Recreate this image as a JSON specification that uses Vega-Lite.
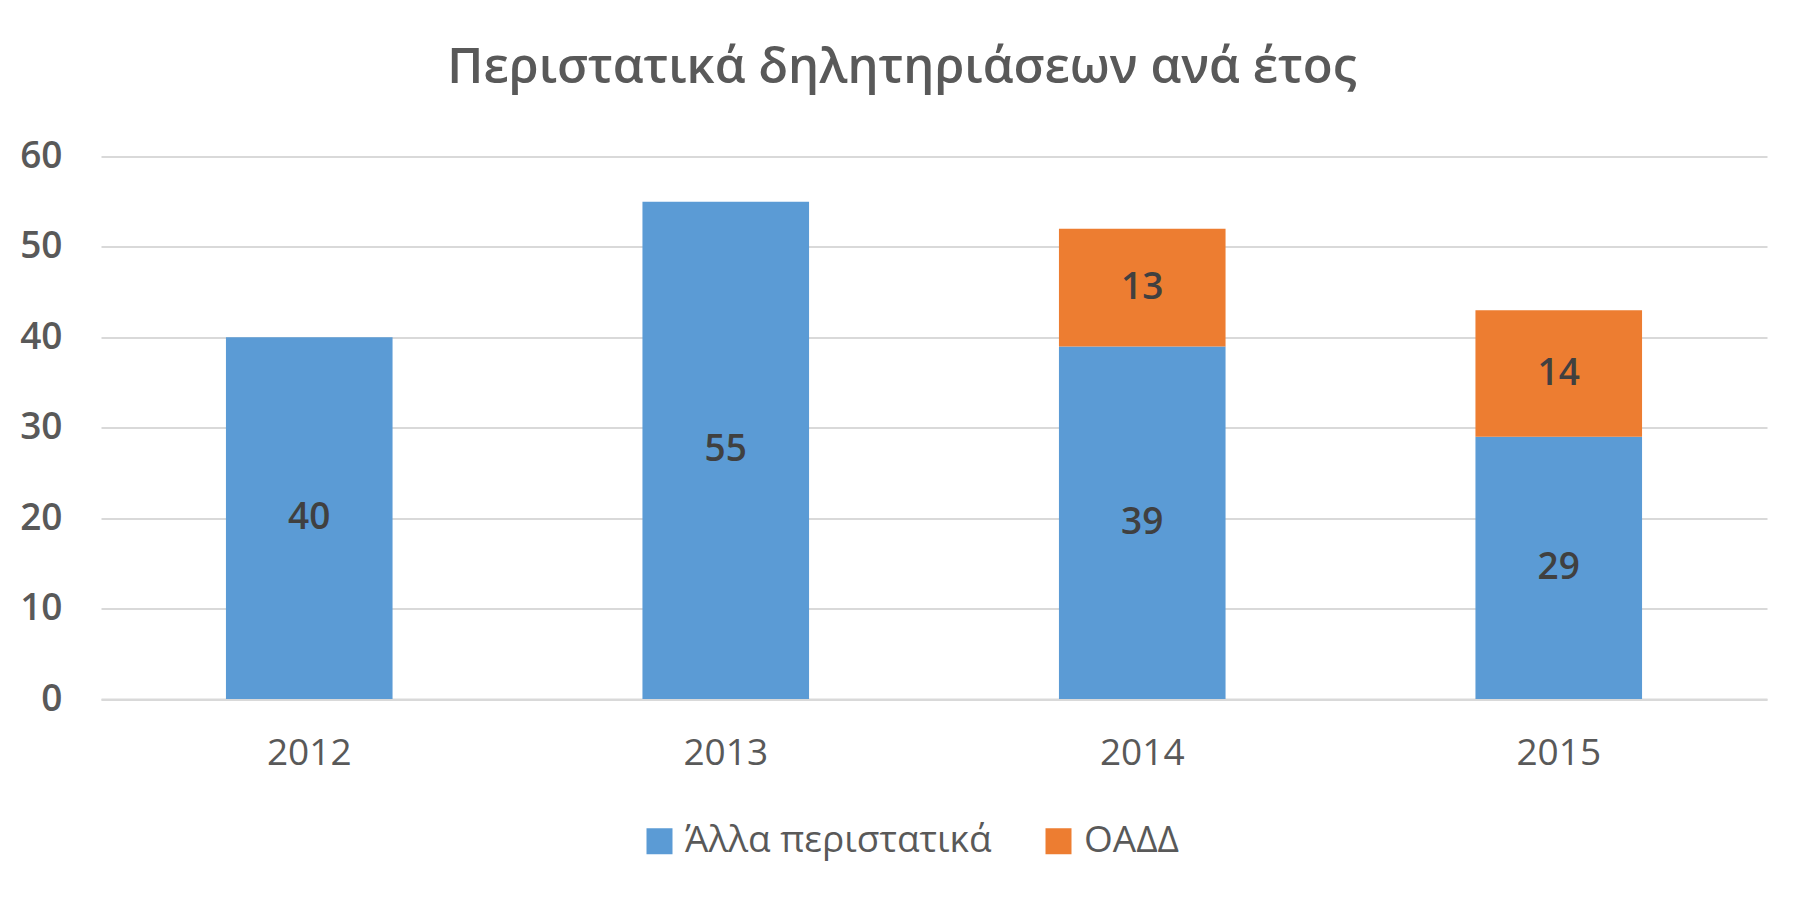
{
  "$schema": "https://vega.github.io/schema/vega-lite/v6.json",
  "width": 1666,
  "height": 542.5,
  "autosize": {"type": "none"},
  "padding": {"left": 101, "top": 156.5, "right": 38, "bottom": 199},
  "background": "white",
  "config": {"view": {"stroke": null}, "font": "Open Sans"},
  "title": {
    "text": "Περιστατικά δηλητηριάσεων ανά έτος",
    "font": "Open Sans",
    "fontSize": 49,
    "fontWeight": 600,
    "color": "#595959",
    "anchor": "middle",
    "baseline": "alphabetic",
    "dx": -32,
    "offset": 6
  },
  "data": {
    "values": [
      {"year": "2012", "cat": "Άλλα περιστατικά", "n": 40},
      {"year": "2013", "cat": "Άλλα περιστατικά", "n": 55},
      {"year": "2014", "cat": "Άλλα περιστατικά", "n": 39},
      {"year": "2014", "cat": "ΟΑΔΔ", "n": 13},
      {"year": "2015", "cat": "Άλλα περιστατικά", "n": 29},
      {"year": "2015", "cat": "ΟΑΔΔ", "n": 14}
    ]
  },
  "transform": [
    {"stack": "n", "groupby": ["year"], "sort": [{"field": "cat", "order": "ascending"}], "as": ["s0", "s1"]},
    {"calculate": "(datum.s0 + datum.s1) / 2", "as": "mid"}
  ],
  "encoding": {
    "x": {
      "field": "year",
      "type": "nominal",
      "scale": {"paddingInner": 0.6, "paddingOuter": 0.3},
      "axis": {
        "title": null,
        "labelAngle": 0,
        "ticks": false,
        "domain": true,
        "domainColor": "#d9d9d9",
        "domainWidth": 2,
        "labelFont": "Open Sans",
        "labelFontSize": 37,
        "labelColor": "#595959",
        "labelPadding": 36
      }
    }
  },
  "layer": [
    {
      "mark": {"type": "bar"},
      "encoding": {
        "y": {
          "field": "s0",
          "type": "quantitative",
          "scale": {"domain": [0, 60]},
          "axis": {
            "title": null,
            "values": [0, 10, 20, 30, 40, 50, 60],
            "ticks": false,
            "domain": false,
            "gridColor": "#d9d9d9",
            "gridWidth": 2,
            "labelFont": "Open Sans",
            "labelFontSize": 37,
            "labelFontWeight": 600,
            "labelColor": "#595959",
            "labelPadding": 39
          }
        },
        "y2": {"field": "s1"},
        "color": {
          "field": "cat",
          "type": "nominal",
          "scale": {"domain": ["Άλλα περιστατικά", "ΟΑΔΔ"], "range": ["#5B9BD5", "#ED7D31"]},
          "legend": {
            "title": null,
            "orient": "none",
            "direction": "horizontal",
            "legendX": 540,
            "legendY": 666,
            "padding": 0,
            "symbolType": "square",
            "symbolSize": 676,
            "symbolStrokeWidth": 0,
            "symbolOpacity": 1,
            "labelFont": "Open Sans",
            "labelFontSize": 37,
            "labelColor": "#595959",
            "labelOffset": 7,
            "labelLimit": 600,
            "columnPadding": 48
          }
        }
      }
    },
    {
      "mark": {"type": "text", "font": "Open Sans", "fontSize": 37, "fontWeight": 600, "color": "#404040", "baseline": "middle", "align": "center"},
      "encoding": {
        "y": {"field": "mid", "type": "quantitative", "scale": {"domain": [0, 60]}},
        "text": {"field": "n", "type": "quantitative"}
      }
    }
  ]
}
